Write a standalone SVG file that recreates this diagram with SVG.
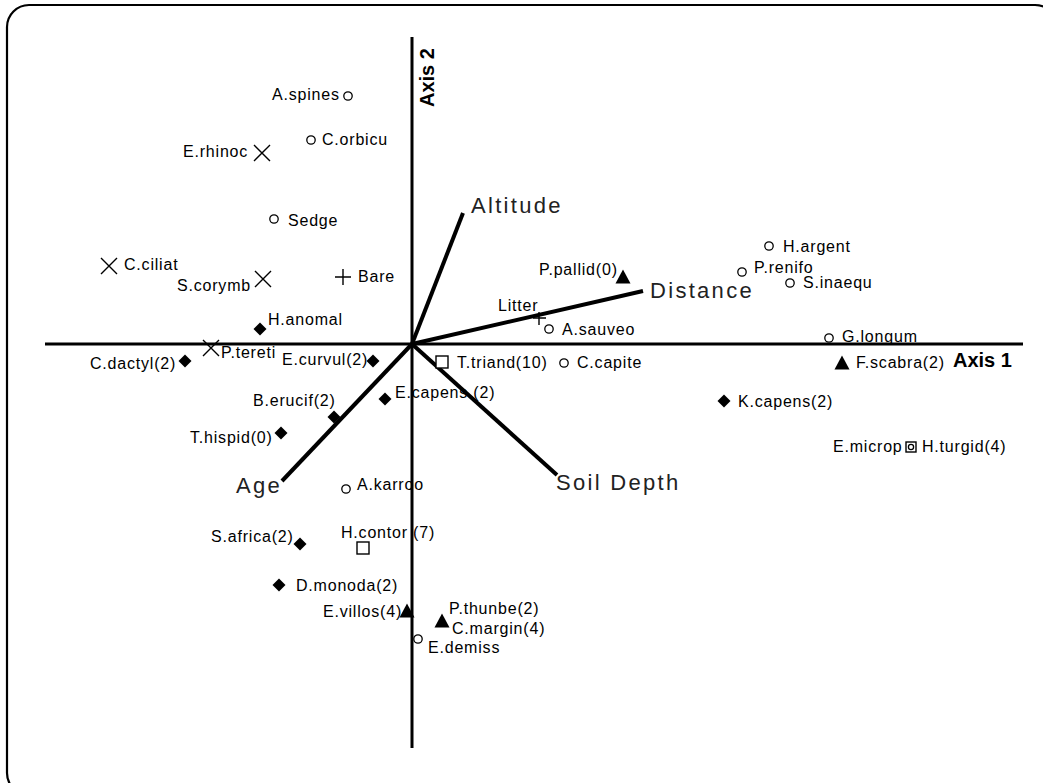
<svg xmlns="http://www.w3.org/2000/svg" width="1043" height="783" viewBox="0 0 1043 783">
<style>
.lb{font-family:"Liberation Sans",Arial,sans-serif;font-size:16px;letter-spacing:0.8px;fill:#000}
.vl{font-family:"Liberation Sans",Arial,sans-serif;font-size:22px;letter-spacing:2.3px;fill:#222}
.ax{font-family:"Liberation Sans",Arial,sans-serif;font-size:20px;font-weight:bold;fill:#000}
.ci{fill:#fff;stroke:#000;stroke-width:1.3}
.xx{stroke:#000;stroke-width:1.4;fill:none}
.sq{fill:#fff;stroke:#000;stroke-width:1.4}
.fd{fill:#000}
.axis{stroke:#000;stroke-width:3;fill:none}
.vec{stroke:#000;stroke-width:4;fill:none;stroke-linecap:butt}
</style>
<defs>
<circle id="mc" r="4.2" class="ci"/>
<path id="mx" d="M-8,-8L8,8M-8,8L8,-8" class="xx"/>
<path id="mp" d="M-8,0H8M0,-8V8" class="xx"/>
<path id="md" d="M0,-6.5L6.5,0L0,6.5L-6.5,0Z" class="fd"/>
<path id="mt" d="M0,-7.5L7.5,6.5H-7.5Z" class="fd"/>
<rect id="ms" x="-6" y="-6" width="12" height="12" class="sq"/>
</defs>
<rect x="7" y="5" width="1050" height="790" rx="22" ry="22" fill="#fff" stroke="#000" stroke-width="2.2"/>
<g id="connectors">
<line class="axis" x1="45" y1="344" x2="1023" y2="344"/>
<line class="axis" x1="412" y1="37" x2="412" y2="748"/>
<line class="vec" x1="412" y1="344" x2="463" y2="213"/>
<line class="vec" x1="412" y1="344" x2="643" y2="291"/>
<line class="vec" x1="412" y1="344" x2="557" y2="475"/>
<line class="vec" x1="412" y1="344" x2="282" y2="481"/>
</g>
<g id="axis1"><text class="ax" x="953" y="367">Axis 1</text></g>
<g id="axis2"><text class="ax" transform="translate(434,107) rotate(-90)">Axis 2</text></g>
<g id="altitude"><text class="vl" x="471" y="213">Altitude</text></g>
<g id="distance"><text class="vl" x="650" y="298">Distance</text></g>
<g id="soildepth"><text class="vl" x="556" y="490">Soil Depth</text></g>
<g id="age"><text class="vl" x="236" y="493">Age</text></g>
<g id="aspines"><use href="#mc" x="348" y="96"/><text class="lb" x="272" y="100">A.spines</text></g>
<g id="corbicu"><use href="#mc" x="311" y="140"/><text class="lb" x="322" y="145">C.orbicu</text></g>
<g id="erhinoc"><use href="#mx" x="262" y="153"/><text class="lb" x="183" y="157">E.rhinoc</text></g>
<g id="sedge"><use href="#mc" x="274" y="219"/><text class="lb" x="288" y="226">Sedge</text></g>
<g id="cciliat"><use href="#mx" x="109" y="266"/><text class="lb" x="124" y="270">C.ciliat</text></g>
<g id="scorymb"><use href="#mx" x="263" y="279"/><text class="lb" x="177" y="291">S.corymb</text></g>
<g id="bare"><use href="#mp" x="343" y="277"/><text class="lb" x="358" y="282">Bare</text></g>
<g id="hanomal"><use href="#md" x="260" y="329"/><text class="lb" x="268" y="325">H.anomal</text></g>
<g id="ptereti"><use href="#mx" x="211" y="348"/><text class="lb" x="221" y="358">P.tereti</text></g>
<g id="cdactyl"><use href="#md" x="185" y="361"/><text class="lb" x="90" y="369">C.dactyl(2)</text></g>
<g id="ecurvul"><use href="#md" x="373" y="361"/><text class="lb" x="282" y="365">E.curvul(2)</text></g>
<g id="ecapens"><use href="#md" x="385" y="399"/><text class="lb" x="395" y="398">E.capens (2)</text></g>
<g id="berucif"><use href="#md" x="334" y="417"/><text class="lb" x="253" y="406">B.erucif(2)</text></g>
<g id="thispid"><use href="#md" x="281" y="433"/><text class="lb" x="190" y="443">T.hispid(0)</text></g>
<g id="akarroo"><use href="#mc" x="346" y="489"/><text class="lb" x="357" y="490">A.karroo</text></g>
<g id="hcontor"><use href="#ms" x="363" y="548"/><text class="lb" x="341" y="538">H.contor (7)</text></g>
<g id="safrica"><use href="#md" x="300" y="544"/><text class="lb" x="211" y="542">S.africa(2)</text></g>
<g id="dmonoda"><use href="#md" x="279" y="585"/><text class="lb" x="296" y="591">D.monoda(2)</text></g>
<g id="evillos"><use href="#mt" x="407" y="611"/><text class="lb" x="323" y="617">E.villos(4)</text></g>
<g id="pthunbe"><use href="#mt" x="442" y="621"/><text class="lb" x="449" y="614">P.thunbe(2)</text><text class="lb" x="452" y="634">C.margin(4)</text></g>
<g id="edemiss"><use href="#mc" x="418" y="639"/><text class="lb" x="428" y="653">E.demiss</text></g>
<g id="ppallid"><use href="#mt" x="623" y="277"/><text class="lb" x="539" y="275">P.pallid(0)</text></g>
<g id="litter"><path d="M533,318H546M539,312V325" class="xx"/><text class="lb" x="498" y="311">Litter</text></g>
<g id="asauveo"><use href="#mc" x="549" y="329"/><text class="lb" x="562" y="335">A.sauveo</text></g>
<g id="ttriand"><use href="#ms" x="442" y="362"/><text class="lb" x="457" y="368">T.triand(10)</text></g>
<g id="ccapite"><use href="#mc" x="564" y="363"/><text class="lb" x="577" y="368">C.capite</text></g>
<g id="hargent"><use href="#mc" x="769" y="246"/><text class="lb" x="783" y="252">H.argent</text></g>
<g id="prenifo"><use href="#mc" x="742" y="272"/><text class="lb" x="754" y="273">P.renifo</text></g>
<g id="sinaequ"><use href="#mc" x="790" y="283"/><text class="lb" x="803" y="288">S.inaequ</text></g>
<g id="glongum"><use href="#mc" x="829" y="338"/><text class="lb" x="842" y="342">G.longum</text></g>
<g id="fscabra"><use href="#mt" x="842" y="363"/><text class="lb" x="856" y="368">F.scabra(2)</text></g>
<g id="kcapens"><use href="#md" x="724" y="401"/><text class="lb" x="738" y="407">K.capens(2)</text></g>
<g id="emicrop"><rect x="906" y="442" width="10" height="10" class="sq"/><circle cx="911" cy="447" r="2.6" class="ci"/><text class="lb" x="833" y="452">E.microp</text><text class="lb" x="922" y="452">H.turgid(4)</text></g>
</svg>
